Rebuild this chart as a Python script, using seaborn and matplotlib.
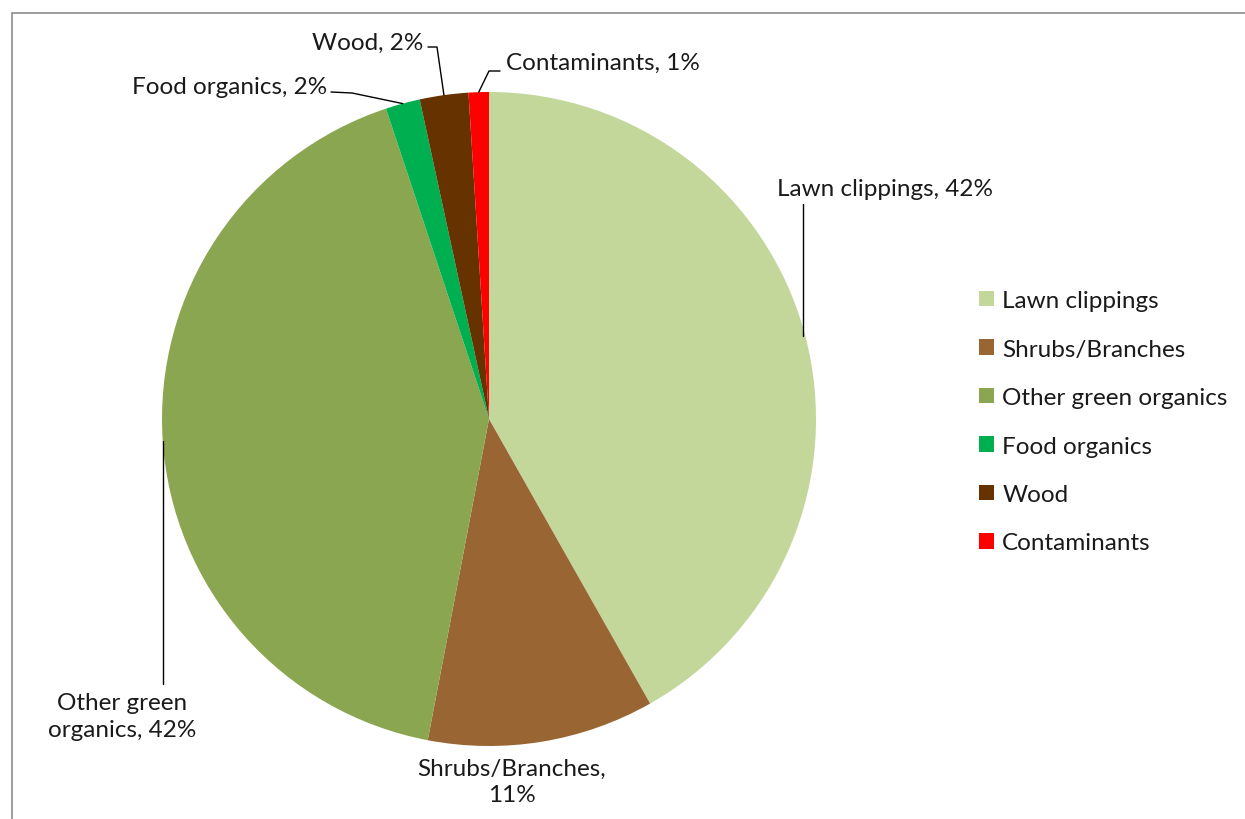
import numpy as np
import matplotlib.pyplot as plt
import seaborn as sns
from matplotlib.patches import Rectangle

sns.set_theme(style="white")
plt.rcParams["font.family"] = ["Lato", "DejaVu Sans"]

# data (share of sample, %)
categories = ["Lawn clippings", "Shrubs/Branches", "Other green organics",
              "Food organics", "Wood", "Contaminants"]
shares = [41.8, 11.2, 41.9, 1.7, 2.4, 1.0]
pct_labels = ["42%", "11%", "42%", "2%", "2%", "1%"]
colors = ["#C4D79B", "#996633", "#8BA650", "#00B050", "#663300", "#FF0000"]

fig = plt.figure(figsize=(12.45, 8.2), dpi=100)
ax = fig.add_axes([0, 0, 1, 1])

cx, cy, r = 489, 420, 327
# y axis runs downward, so counterclock in data = clockwise on screen
wedges, _ = ax.pie(shares, colors=colors, startangle=-90, counterclock=True,
                   center=(cx, cy), radius=r, frame=True,
                   wedgeprops=dict(linewidth=0))
ax.set_xlim(0, 1245)
ax.set_ylim(820, 0)
ax.set_axis_off()

fs = 17.5
txt = "#1a1a1a"

def edge_point(i):
    ang = np.deg2rad((wedges[i].theta1 + wedges[i].theta2) / 2)
    return cx + r * np.cos(ang), cy + r * np.sin(ang)

# label positions
label_pos = {
    0: (885, 189),
    1: (512, 782),
    2: (122, 717),
    3: (230, 87),
    4: (368, 43),
    5: (603, 63),
}
texts = {
    0: f"{categories[0]}, {pct_labels[0]}",
    1: f"{categories[1]},\n{pct_labels[1]}",
    2: f"Other green\norganics, {pct_labels[2]}",
    3: f"{categories[3]}, {pct_labels[3]}",
    4: f"{categories[4]}, {pct_labels[4]}",
    5: f"{categories[5]}, {pct_labels[5]}",
}
for i, (x, y) in label_pos.items():
    ax.text(x, y, texts[i], ha="center", va="center", fontsize=fs, color=txt,
            linespacing=1.3)

# leader lines: elbow points, ending on the wedge edge
leaders = {
    0: [(803, 205)],
    2: [(163, 685)],
    3: [(331, 93), (352, 94)],
    4: [(428, 48), (437, 48)],
    5: [(500, 72), (489, 72)],
}
for i, pts in leaders.items():
    ex, ey = edge_point(i)
    xs = [p[0] for p in pts] + [ex]
    ys = [p[1] for p in pts] + [ey]
    if i in (0, 2):
        xs[-1] = xs[0]
    ax.plot(xs, ys, color="black", lw=1)

leg = ax.legend(wedges, categories, loc="upper left",
                bbox_to_anchor=(967 / 1245, 1 - 279 / 820),
                frameon=False, fontsize=fs, handlelength=0.6, handleheight=0.6,
                handletextpad=0.35, labelspacing=1.13, borderpad=0)
for t in leg.get_texts():
    t.set_color(txt)

# outer chart border
fig.add_artist(Rectangle((12 / 1245, -0.05), 1.1, 1 - 14 / 820 + 0.05,
                         transform=fig.transFigure, fill=False,
                         edgecolor="#8c8c8c", lw=1.2))

fig.savefig("out.png", dpi=100)
